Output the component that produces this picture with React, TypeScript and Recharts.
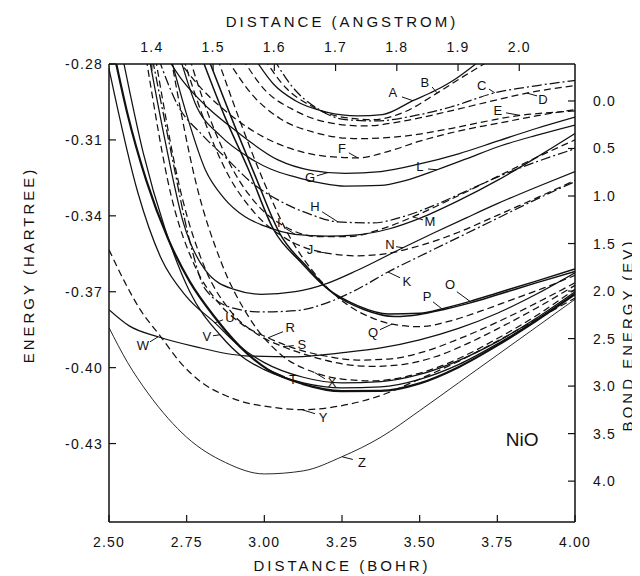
import React from 'react';
import { ComposedChart, Line, XAxis, YAxis, Scatter, ReferenceLine } from 'recharts';

type Pair = [number, number];

// ---------- axis ticks ----------
const bohrTicks = [2.5, 2.75, 3.0, 3.25, 3.5, 3.75, 4.0];
const angstromTicks = [1.4, 1.5, 1.6, 1.7, 1.8, 1.9, 2.0];
const hartreeTicks = [-0.28, -0.31, -0.34, -0.37, -0.4, -0.43];
const evTicks = [0, 0.5, 1.0, 1.5, 2.0, 2.5, 3.0, 3.5, 4.0];

const bohrDomain: Pair = [2.5, 4.0];
const angstromDomain: Pair = [1.33, 2.091];
const hartreeDomain: Pair = [-0.461, -0.28];
const evDomain: Pair = [-0.389, 4.43];

// ---------- curves (distance in bohr, energy in hartree) ----------
const curveA: Pair[] = [[2.97,-0.278],[3.03,-0.288],[3.10,-0.2945],[3.20,-0.2990],[3.30,-0.3005],[3.38,-0.3000],[3.478,-0.2945],[3.55,-0.2905],[3.62,-0.2855],[3.68,-0.2800],[3.70,-0.2780]];
const curveB: Pair[] = [[3.00,-0.278],[3.07,-0.2895],[3.15,-0.2965],[3.25,-0.3010],[3.35,-0.3020],[3.45,-0.2990],[3.556,-0.2915],[3.64,-0.2850],[3.72,-0.2790],[3.74,-0.2775]];
const curveC: Pair[] = [[3.03,-0.278],[3.09,-0.289],[3.17,-0.2975],[3.26,-0.3020],[3.36,-0.3025],[3.48,-0.3005],[3.60,-0.2970],[3.742,-0.2914],[3.88,-0.2885],[4.00,-0.2865]];
const curveD: Pair[] = [[2.93,-0.278],[3.00,-0.290],[3.10,-0.2985],[3.20,-0.3030],[3.32,-0.3045],[3.45,-0.3025],[3.60,-0.2985],[3.72,-0.2950],[3.845,-0.2915],[4.00,-0.2885]];
const curveE: Pair[] = [[2.88,-0.278],[2.96,-0.292],[3.05,-0.3015],[3.16,-0.3070],[3.30,-0.3095],[3.45,-0.3085],[3.60,-0.3055],[3.72,-0.3025],[3.823,-0.3003],[3.92,-0.2992],[4.00,-0.2985]];
const curveF: Pair[] = [[2.72,-0.278],[2.80,-0.290],[2.90,-0.3010],[3.00,-0.3090],[3.10,-0.3140],[3.20,-0.3165],[3.301,-0.3171],[3.40,-0.3145],[3.50,-0.3105],[3.625,-0.3065],[3.75,-0.3035],[3.875,-0.3005],[4.00,-0.2980]];
const curveG: Pair[] = [[2.69,-0.278],[2.735,-0.2863],[2.82,-0.2975],[2.905,-0.3061],[3.044,-0.3179],[3.15,-0.3220],[3.26,-0.3232],[3.375,-0.3225],[3.50,-0.3195],[3.625,-0.3155],[3.75,-0.3105],[3.875,-0.3055],[4.00,-0.3010]];
const curveH: Pair[] = [[2.66,-0.278],[2.72,-0.2960],[2.80,-0.3080],[2.883,-0.3179],[2.96,-0.3270],[3.044,-0.3337],[3.15,-0.3395],[3.237,-0.3424],[3.35,-0.3428],[3.45,-0.3402],[3.55,-0.3357],[3.65,-0.3302],[3.75,-0.3247],[3.875,-0.3187],[4.00,-0.3135]];
const curveI: Pair[] = [[2.70,-0.278],[2.75,-0.3000],[2.81,-0.3218],[2.87,-0.3330],[2.938,-0.3404],[3.00,-0.3440],[3.099,-0.3473],[3.20,-0.3480],[3.30,-0.3475],[3.40,-0.3452],[3.50,-0.3410],[3.625,-0.3340],[3.75,-0.3260],[3.875,-0.3170],[4.00,-0.3075]];
const curveJ: Pair[] = [[2.74,-0.278],[2.80,-0.3000],[2.88,-0.3230],[2.97,-0.3390],[3.07,-0.3490],[3.195,-0.3546],[3.30,-0.3558],[3.40,-0.3548],[3.50,-0.3518],[3.625,-0.3465],[3.75,-0.3398],[3.875,-0.3330],[4.00,-0.3260]];
const curveK: Pair[] = [[2.64,-0.278],[2.70,-0.315],[2.76,-0.350],[2.81,-0.3690],[2.90,-0.3765],[2.99,-0.3780],[3.10,-0.3775],[3.21,-0.3740],[3.30,-0.3690],[3.398,-0.3622],[3.50,-0.3560],[3.625,-0.3485],[3.75,-0.3410],[3.875,-0.3335],[4.00,-0.3265]];
const curveL: Pair[] = [[2.73,-0.278],[2.777,-0.2954],[2.86,-0.3085],[2.947,-0.3167],[3.02,-0.3215],[3.099,-0.3246],[3.18,-0.3270],[3.26,-0.3283],[3.375,-0.3280],[3.45,-0.3262],[3.556,-0.3218],[3.65,-0.3175],[3.75,-0.3128],[3.875,-0.3082],[4.00,-0.3041]];
const curveM: Pair[] = [[2.76,-0.278],[2.82,-0.3000],[2.90,-0.3220],[2.98,-0.3360],[3.07,-0.3445],[3.17,-0.3482],[3.27,-0.3482],[3.37,-0.3455],[3.478,-0.3404],[3.60,-0.3335],[3.75,-0.3245],[3.875,-0.3170],[4.00,-0.3100]];
const curveN: Pair[] = [[2.63,-0.278],[2.68,-0.310],[2.74,-0.343],[2.81,-0.3615],[2.90,-0.3690],[2.99,-0.3710],[3.10,-0.3700],[3.20,-0.3668],[3.30,-0.3615],[3.446,-0.3526],[3.55,-0.3465],[3.65,-0.3408],[3.75,-0.3352],[3.875,-0.3287],[4.00,-0.3225]];
const curveO: Pair[] = [[2.80,-0.278],[2.87,-0.300],[2.95,-0.3220],[3.03,-0.3455],[3.12,-0.3586],[3.20,-0.3685],[3.30,-0.3755],[3.40,-0.3788],[3.50,-0.3785],[3.58,-0.3765],[3.662,-0.3738],[3.75,-0.3705],[3.875,-0.3658],[4.00,-0.3610]];
const curveP: Pair[] = [[2.82,-0.278],[2.89,-0.300],[2.97,-0.3240],[3.05,-0.3470],[3.14,-0.3605],[3.22,-0.3705],[3.32,-0.3770],[3.42,-0.3798],[3.50,-0.3790],[3.575,-0.3771],[3.66,-0.3745],[3.75,-0.3712],[3.875,-0.3665],[4.00,-0.3620]];
const curveQ: Pair[] = [[2.85,-0.278],[2.92,-0.302],[3.00,-0.3270],[3.08,-0.3480],[3.17,-0.3640],[3.26,-0.3745],[3.35,-0.3805],[3.411,-0.3828],[3.50,-0.3838],[3.60,-0.3815],[3.70,-0.3775],[3.80,-0.3730],[3.90,-0.3685],[4.00,-0.3635]];
const curveR: Pair[] = [[2.62,-0.278],[2.70,-0.332],[2.777,-0.3600],[2.85,-0.3740],[2.93,-0.3830],[3.012,-0.3882],[3.10,-0.3925],[3.20,-0.3955],[3.30,-0.3970],[3.40,-0.3966],[3.50,-0.3942],[3.625,-0.3887],[3.75,-0.3820],[3.875,-0.3745],[4.00,-0.3665]];
const curveS: Pair[] = [[2.65,-0.278],[2.73,-0.330],[2.81,-0.3610],[2.89,-0.3775],[2.98,-0.3870],[3.06,-0.3917],[3.15,-0.3955],[3.25,-0.3985],[3.35,-0.3995],[3.45,-0.3987],[3.55,-0.3957],[3.65,-0.3907],[3.75,-0.3847],[3.875,-0.3765],[4.00,-0.3675]];
const curveT: Pair[] = [[2.52,-0.278],[2.56,-0.300],[2.62,-0.326],[2.69,-0.349],[2.76,-0.366],[2.84,-0.380],[2.92,-0.3915],[3.012,-0.4008],[3.125,-0.4065],[3.25,-0.4093],[3.375,-0.4092],[3.50,-0.4062],[3.625,-0.3998],[3.75,-0.3912],[3.875,-0.3815],[4.00,-0.3710]];
const curveU: Pair[] = [[2.495,-0.279],[2.593,-0.3309],[2.67,-0.3574],[2.75,-0.3720],[2.841,-0.3823],[2.92,-0.3915],[3.00,-0.3980],[3.125,-0.4038],[3.25,-0.4060],[3.375,-0.4055],[3.50,-0.4027],[3.625,-0.3972],[3.75,-0.3897],[3.875,-0.3805],[4.00,-0.3700]];
const curveV: Pair[] = [[2.545,-0.278],[2.61,-0.315],[2.68,-0.345],[2.76,-0.3700],[2.857,-0.3870],[2.93,-0.3958],[3.00,-0.4008],[3.125,-0.4060],[3.25,-0.4080],[3.375,-0.4076],[3.50,-0.4046],[3.625,-0.3988],[3.75,-0.3906],[3.875,-0.3812],[4.00,-0.3706]];
const curveW: Pair[] = [[2.50,-0.3771],[2.565,-0.3835],[2.658,-0.3878],[2.777,-0.3917],[2.938,-0.3953],[3.099,-0.3957],[3.26,-0.3940],[3.375,-0.3922],[3.50,-0.3890],[3.625,-0.3845],[3.75,-0.3785],[3.875,-0.3710],[4.00,-0.3625]];
const curveX: Pair[] = [[2.70,-0.278],[2.78,-0.327],[2.86,-0.358],[2.95,-0.3800],[3.05,-0.3945],[3.163,-0.4020],[3.25,-0.4045],[3.35,-0.4052],[3.45,-0.4037],[3.55,-0.4002],[3.65,-0.3950],[3.75,-0.3885],[3.875,-0.3795],[4.00,-0.3690]];
const curveY: Pair[] = [[2.50,-0.3534],[2.55,-0.3660],[2.60,-0.3770],[2.665,-0.3875],[2.73,-0.3980],[2.80,-0.4060],[2.875,-0.4110],[2.94,-0.4138],[3.00,-0.4152],[3.121,-0.4166],[3.25,-0.4150],[3.375,-0.4110],[3.50,-0.4045],[3.625,-0.3975],[3.75,-0.3895],[3.875,-0.3810],[4.00,-0.3725]];
const curveZ: Pair[] = [[2.50,-0.3842],[2.56,-0.3980],[2.625,-0.4100],[2.69,-0.4200],[2.75,-0.4275],[2.875,-0.4375],[3.00,-0.4420],[3.125,-0.4408],[3.25,-0.4352],[3.375,-0.4275],[3.50,-0.4170],[3.625,-0.4060],[3.75,-0.3950],[3.875,-0.3840],[4.00,-0.3730]];

const curveNames = ['A','B','C','D','E','F','G','H','I','J','K','L','M','N','O','P','Q','R','S','T','U','V','W','X','Y','Z'];
const curveValues = [curveA,curveB,curveC,curveD,curveE,curveF,curveG,curveH,curveI,curveJ,curveK,curveL,curveM,curveN,curveO,curveP,curveQ,curveR,curveS,curveT,curveU,curveV,curveW,curveX,curveY,curveZ];
// line style of each state: s = solid, d = dashed, c = dash-dot
const curveKinds = ['s','d','c','d','d','d','s','c','s','d','c','s','d','s','s','s','d','d','d','s','s','s','s','d','d','s'];

// ---------- state labels: text position, leader start, leader end ----------
const labelTextX = [3.414,3.517,3.700,3.897,3.752,3.250,3.147,3.163,3.047,3.147,3.459,3.501,3.533,3.404,3.598,3.524,3.350,3.083,3.121,3.092,2.889,2.815,2.609,3.218,3.189,3.314];
const labelTextY = [-0.2911,-0.2875,-0.2883,-0.2942,-0.2982,-0.3132,-0.3250,-0.3365,-0.3428,-0.3534,-0.3661,-0.3207,-0.3424,-0.3515,-0.3673,-0.3720,-0.3862,-0.3842,-0.3909,-0.4048,-0.3803,-0.3878,-0.3913,-0.4059,-0.4198,-0.4375];
const leaderFromX = [3.443,3.540,3.723,3.878,3.778,3.272,3.169,3.186,3.070,3.169,3.437,3.527,3.511,3.424,3.620,3.543,3.372,3.060,3.095,3.066,2.867,2.835,2.632,3.195,3.163,3.285];
const leaderFromY = [-0.2930,-0.2891,-0.2899,-0.2926,-0.2993,-0.3151,-0.3242,-0.3384,-0.3451,-0.3542,-0.3645,-0.3215,-0.3416,-0.3522,-0.3700,-0.3740,-0.3850,-0.3858,-0.3913,-0.4036,-0.3811,-0.3874,-0.3898,-0.4044,-0.4182,-0.4363];
const leaderToX = [3.478,3.556,3.742,3.845,3.823,3.301,3.205,3.237,3.099,3.195,3.398,3.556,3.478,3.446,3.662,3.575,3.411,3.012,3.060,3.012,2.841,2.857,2.658,3.163,3.121,3.250];
const leaderToY = [-0.2945,-0.2914,-0.2914,-0.2915,-0.3003,-0.3171,-0.3229,-0.3424,-0.3473,-0.3546,-0.3622,-0.3218,-0.3404,-0.3526,-0.3738,-0.3771,-0.3828,-0.3882,-0.3917,-0.4008,-0.3823,-0.3870,-0.3878,-0.4020,-0.4166,-0.4352];

const moleculeLabel = { text: 'NiO', x: 3.83, y: -0.4285 };

// ---------- styles ----------
const FONT = "'Liberation Sans', 'DejaVu Sans', Arial, sans-serif";
const INK = '#111';
const dashOf: Record<string, string | undefined> = { s: undefined, d: '7 4', c: '10 3 2 3' };
const widthOf = (name: string) => (name === 'T' ? 2.2 : name === 'Z' ? 0.9 : name === 'O' || name === 'P' ? 1.5 : 1.25);

const W = 632;
const H = 568;

const toPoints = (c: Pair[]) => c.map(([x, y]) => ({ x, y }));

const BottomTick = (p: any) => (
  <g>
    <line x1={p.x} x2={p.x} y1={p.y} y2={p.y - 7} stroke={INK} strokeWidth={1.2} />
    <text x={p.x} y={p.y + 20} textAnchor="middle" dominantBaseline="central" fontSize={14} letterSpacing={1.2} fontFamily={FONT} fill={INK}>
      {Number(p.payload.value).toFixed(2)}
    </text>
  </g>
);
const TopTick = (p: any) => (
  <g>
    <line x1={p.x} x2={p.x} y1={p.y} y2={p.y + 7} stroke={INK} strokeWidth={1.2} />
    <text x={p.x} y={p.y - 17} textAnchor="middle" dominantBaseline="central" fontSize={14} letterSpacing={1.2} fontFamily={FONT} fill={INK}>
      {Number(p.payload.value).toFixed(1)}
    </text>
  </g>
);
const LeftTick = (p: any) => (
  <g>
    <line x1={p.x} x2={p.x + 7} y1={p.y} y2={p.y} stroke={INK} strokeWidth={1.2} />
    <text x={p.x - 6} y={p.y} textAnchor="end" dominantBaseline="central" fontSize={14} letterSpacing={1.2} fontFamily={FONT} fill={INK}>
      {Number(p.payload.value).toFixed(2)}
    </text>
  </g>
);
const RightTick = (p: any) => (
  <g>
    <line x1={p.x} x2={p.x - 7} y1={p.y} y2={p.y} stroke={INK} strokeWidth={1.2} />
    <text x={p.x + 18} y={p.y} textAnchor="start" dominantBaseline="central" fontSize={14} letterSpacing={1.2} fontFamily={FONT} fill={INK}>
      {Number(p.payload.value).toFixed(1)}
    </text>
  </g>
);

const labelPoints = curveNames.map((name, i) => ({ name, x: labelTextX[i], y: labelTextY[i] }));
const moleculePoints = [{ name: moleculeLabel.text, x: moleculeLabel.x, y: moleculeLabel.y }];

const renderStateLabel = (p: any) => (
  <text x={p.cx} y={p.cy} textAnchor="middle" dominantBaseline="central" fontSize={13} fontFamily={FONT} fill={INK}>
    {p.payload.name}
  </text>
);
const renderMoleculeLabel = (p: any) => (
  <text x={p.cx} y={p.cy} textAnchor="middle" dominantBaseline="central" fontSize={19} fontFamily={FONT} fill={INK}>
    {p.payload.name}
  </text>
);

const axisLine = { stroke: INK, strokeWidth: 1.5 };

export default function App() {
  return (
    <div style={{ position: 'relative', width: W, height: H, background: '#fff' }}>
      <ComposedChart width={W} height={H} margin={{ top: 0, right: 0, bottom: 0, left: 0 }}>
        <XAxis xAxisId="bohr" type="number" dataKey="x" orientation="bottom" domain={bohrDomain} ticks={bohrTicks}
          allowDataOverflow interval={0} height={54} tickSize={0} tickMargin={0} tickLine={false}
          axisLine={axisLine} tick={(p: any) => <BottomTick {...p} />} />
        <XAxis xAxisId="ang" type="number" dataKey="x" orientation="top" domain={angstromDomain} ticks={angstromTicks}
          allowDataOverflow interval={0} height={56} tickSize={0} tickMargin={0} tickLine={false}
          axisLine={axisLine} tick={(p: any) => <TopTick {...p} />} />
        <YAxis yAxisId="ha" type="number" dataKey="y" orientation="left" domain={hartreeDomain} ticks={hartreeTicks}
          allowDataOverflow interval={0} width={101} tickSize={0} tickMargin={0} tickLine={false}
          axisLine={axisLine} tick={(p: any) => <LeftTick {...p} />} />
        <YAxis yAxisId="ev" type="number" dataKey="y" orientation="right" domain={evDomain} ticks={evTicks} reversed
          allowDataOverflow interval={0} width={65} tickSize={0} tickMargin={0} tickLine={false}
          axisLine={axisLine} tick={(p: any) => <RightTick {...p} />} />

        <Scatter xAxisId="ang" yAxisId="ev" dataKey="y" data={[{ x: 1.6, y: 2 }]} shape={() => <g />} isAnimationActive={false} />

        {curveValues.map((c, i) => (
          <Line key={curveNames[i]} xAxisId="bohr" yAxisId="ha" data={toPoints(c)} dataKey="y" type="monotone"
            stroke={INK} strokeWidth={widthOf(curveNames[i])} strokeDasharray={dashOf[curveKinds[i]]}
            dot={false} activeDot={false} isAnimationActive={false} />
        ))}

        {curveNames.map((n, i) => (
          <ReferenceLine key={'leader' + n} xAxisId="bohr" yAxisId="ha"
            segment={[{ x: leaderFromX[i], y: leaderFromY[i] }, { x: leaderToX[i], y: leaderToY[i] }]}
            stroke={INK} strokeWidth={1} ifOverflow="visible" />
        ))}

        <Scatter xAxisId="bohr" yAxisId="ha" dataKey="y" data={labelPoints} shape={renderStateLabel} isAnimationActive={false} />
        <Scatter xAxisId="bohr" yAxisId="ha" dataKey="y" data={moleculePoints} shape={renderMoleculeLabel} isAnimationActive={false} />
      </ComposedChart>
      <svg width={W} height={H} style={{ position: 'absolute', left: 0, top: 0, pointerEvents: 'none' }}>
        <g fontFamily={FONT} fontSize={15} fill={INK} letterSpacing={3}>
          <text x={334} y={13} textAnchor="middle" dominantBaseline="central">DISTANCE (ANGSTROM)</text>
          <text x={334} y={557} textAnchor="middle" dominantBaseline="central">DISTANCE (BOHR)</text>
          <text x={20} y={257} textAnchor="middle" dominantBaseline="central" transform="rotate(-90 20 257)">ENERGY (HARTREE)</text>
          <text x={619} y={327} textAnchor="middle" dominantBaseline="central" transform="rotate(-90 619 327)">BOND ENERGY (EV)</text>
        </g>
      </svg>
    </div>
  );
}
